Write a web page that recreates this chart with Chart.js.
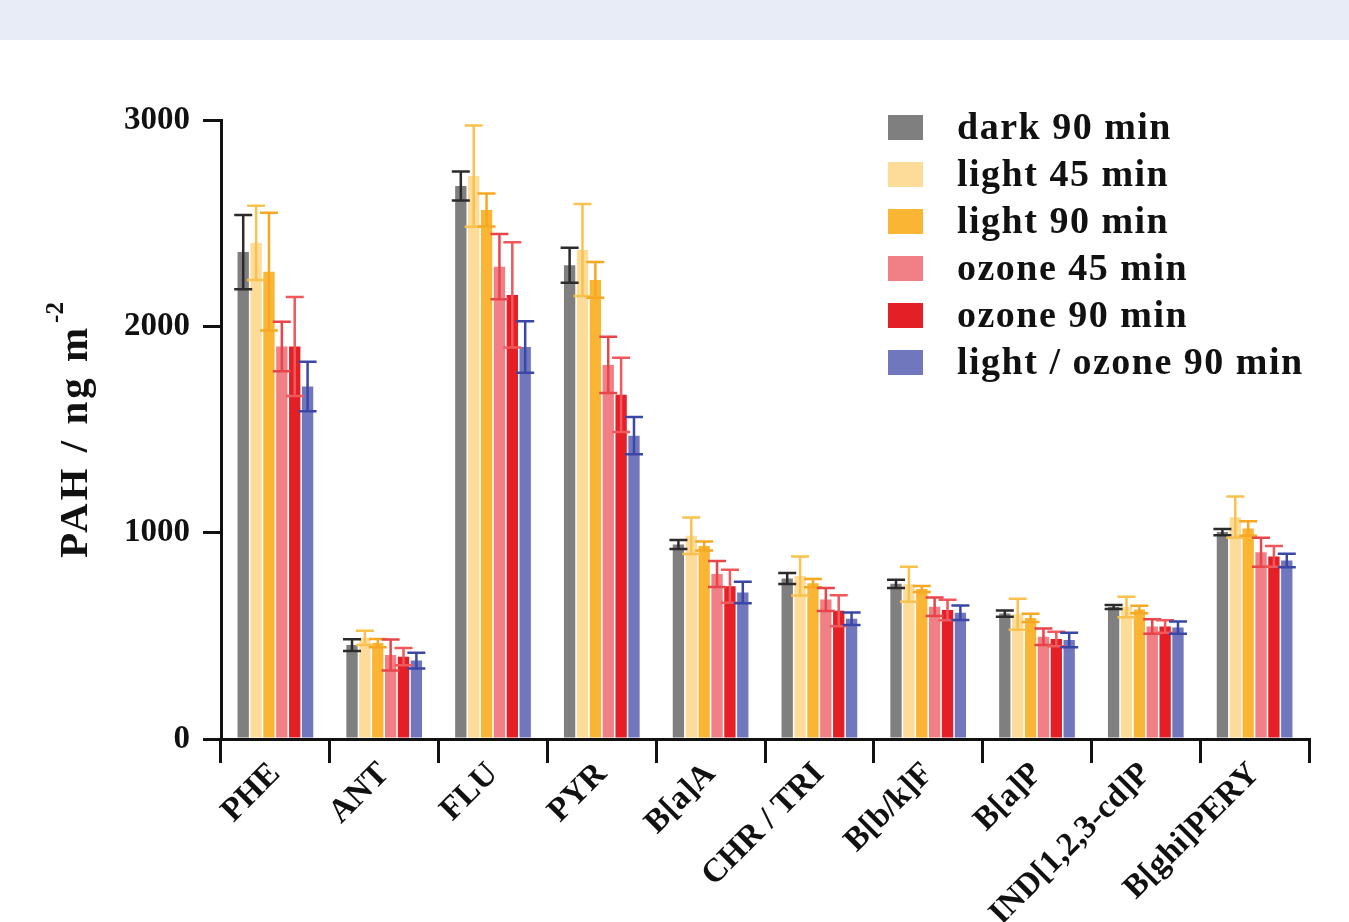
<!DOCTYPE html>
<html>
<head>
<meta charset="utf-8">
<script src="https://cdn.jsdelivr.net/npm/chart.js@4"></script>
<style>
  html, body { margin: 0; padding: 0; background: #fff; }
  #band { height: 40px; background: #e8ecf7; }
  #chart { display: block; }
</style>
</head>
<body>
<div id="band"></div>
<canvas id="chart" width="1349" height="882"></canvas>
<script>
// values (ng m-2), with the +/- error of each bar
const categories = ['PHE', 'ANT', 'FLU', 'PYR', 'B[a]A', 'CHR / TRI', 'B[b/k]F', 'B[a]P', 'IND[1,2,3-cd]P', 'B[ghi]PERY'];
const seriesNames = ['dark 90 min', 'light 45 min', 'light 90 min', 'ozone 45 min', 'ozone 90 min', 'light / ozone 90 min'];

const dark90 = [2360, 455, 2680, 2296, 943, 778, 752, 608, 640, 1003];
const dark90Err = [180, 28, 70, 85, 22, 27, 20, 15, 10, 15];
const light45 = [2404, 490, 2728, 2370, 985, 790, 750, 605, 640, 1075];
const light45Err = [180, 35, 245, 223, 88, 95, 85, 75, 50, 100];
const light90 = [2265, 465, 2564, 2225, 935, 755, 727, 587, 628, 1020];
const light90Err = [285, 20, 80, 87, 22, 20, 15, 20, 18, 35];
const ozone45 = [1902, 407, 2289, 1813, 800, 676, 641, 495, 545, 905];
const ozone45Err = [120, 75, 158, 136, 63, 56, 45, 40, 35, 70];
const ozone90 = [1902, 399, 2152, 1668, 740, 622, 625, 485, 545, 885];
const ozone90Err = [240, 42, 255, 180, 80, 75, 50, 35, 30, 50];
const lightOzone90 = [1708, 380, 1900, 1470, 710, 583, 612, 480, 540, 865];
const lightOzone90Err = [120, 38, 125, 90, 52, 30, 35, 35, 30, 33];

const yTicks = [0, 1000, 2000, 3000];

const barColors = ['#7f7f7f', '#fddb98', '#fbb534', '#f07f86', '#e41f26', '#7077bd'];
const errColors = ['#2b2b2b', '#f9c14e', '#f7a823', '#e8454b', '#f0585c', '#3a47a6'];

const values = [dark90, light45, light90, ozone45, ozone90, lightOzone90];
const errors = [dark90Err, light45Err, light90Err, ozone45Err, ozone90Err, lightOzone90Err];

const serif = '"Liberation Serif", "DejaVu Serif", serif';

// error bars, drawn on top of the bars
const errorBars = {
    id: 'errorBars',
    afterDatasetsDraw(chart) {
        const ctx = chart.ctx;
        const y = chart.scales.y;
        chart.data.datasets.forEach((ds, i) => {
            const meta = chart.getDatasetMeta(i);
            ctx.save();
            ctx.strokeStyle = errColors[i];
            ctx.lineWidth = 2.5;
            meta.data.forEach((bar, j) => {
                const v = ds.data[j];
                const e = errors[i][j];
                const top = y.getPixelForValue(v + e);
                const bot = y.getPixelForValue(v - e);
                const x = bar.x;
                ctx.beginPath();
                ctx.moveTo(x, top); ctx.lineTo(x, bot);
                ctx.moveTo(x - 9, top); ctx.lineTo(x + 9, top);
                ctx.moveTo(x - 9, bot); ctx.lineTo(x + 9, bot);
                ctx.stroke();
            });
            ctx.restore();
        });
    }
};

// legend inside the plot, top right
const boxLegend = {
    id: 'boxLegend',
    afterDraw(chart) {
        const ctx = chart.ctx;
        ctx.save();
        ctx.font = 'bold 38px ' + serif;
        ctx.letterSpacing = '1.5px';
        ctx.textBaseline = 'alphabetic';
        ctx.textAlign = 'left';
        chart.data.datasets.forEach((ds, i) => {
            const cy = 87 + i * 47;
            ctx.fillStyle = ds.backgroundColor;
            ctx.fillRect(888, cy - 12, 35, 25);
            ctx.fillStyle = '#111';
            ctx.fillText(ds.label, 957, cy + 12);
        });
        ctx.restore();
    }
};

// y-axis title with superscript
const yTitle = {
    id: 'yTitle',
    afterDraw(chart) {
        const ctx = chart.ctx;
        ctx.save();
        ctx.translate(87, 518);
        ctx.rotate(-Math.PI / 2);
        ctx.fillStyle = '#111';
        ctx.textBaseline = 'alphabetic';
        ctx.font = 'bold 41px ' + serif;
        ctx.letterSpacing = '3px';
        const main = 'PAH / ng m';
        ctx.fillText(main, 0, 0);
        const w = ctx.measureText(main).width;
        ctx.font = 'bold 25px ' + serif;
        ctx.letterSpacing = '0px';
        ctx.fillText('-2', w + 2, -24);
        ctx.restore();
    }
};

new Chart(document.getElementById('chart'), {
    type: 'bar',
    data: {
        labels: categories,
        datasets: seriesNames.map((name, i) => ({
            label: name,
            data: values[i],
            backgroundColor: barColors[i],
            borderWidth: 0,
            categoryPercentage: 0.71,
            barPercentage: 0.88
        }))
    },
    options: {
        responsive: false,
        animation: false,
        layout: { padding: { top: 80, right: 40, left: 0, bottom: 0 } },
        plugins: {
            legend: { display: false },
            tooltip: { enabled: false }
        },
        scales: {
            x: {
                offset: true,
                grid: { display: true, drawOnChartArea: false, drawTicks: true, tickLength: 24, lineWidth: 3, color: '#111', offset: true },
                border: { display: true, color: '#111', width: 3 },
                ticks: {
                    color: '#111',
                    font: { family: serif, size: 33, weight: 'bold' },
                    maxRotation: 45, minRotation: 45,
                    autoSkip: false,
                    padding: -8
                },
                afterFit(scale) { scale.height = 183; }
            },
            y: {
                min: 0, max: 3000,
                afterBuildTicks(scale) { scale.ticks = yTicks.map(v => ({ value: v })); },
                grid: { drawOnChartArea: false, drawTicks: true, tickLength: 18, lineWidth: 3, color: '#111' },
                border: { display: true, color: '#111', width: 3 },
                ticks: {
                    color: '#111',
                    font: { family: serif, size: 33, weight: 'bold' },
                    padding: 13,
                    callback: v => String(v)
                },
                afterFit(scale) { scale.width = 221; }
            }
        }
    },
    plugins: [errorBars, boxLegend, yTitle]
});
</script>
</body>
</html>
